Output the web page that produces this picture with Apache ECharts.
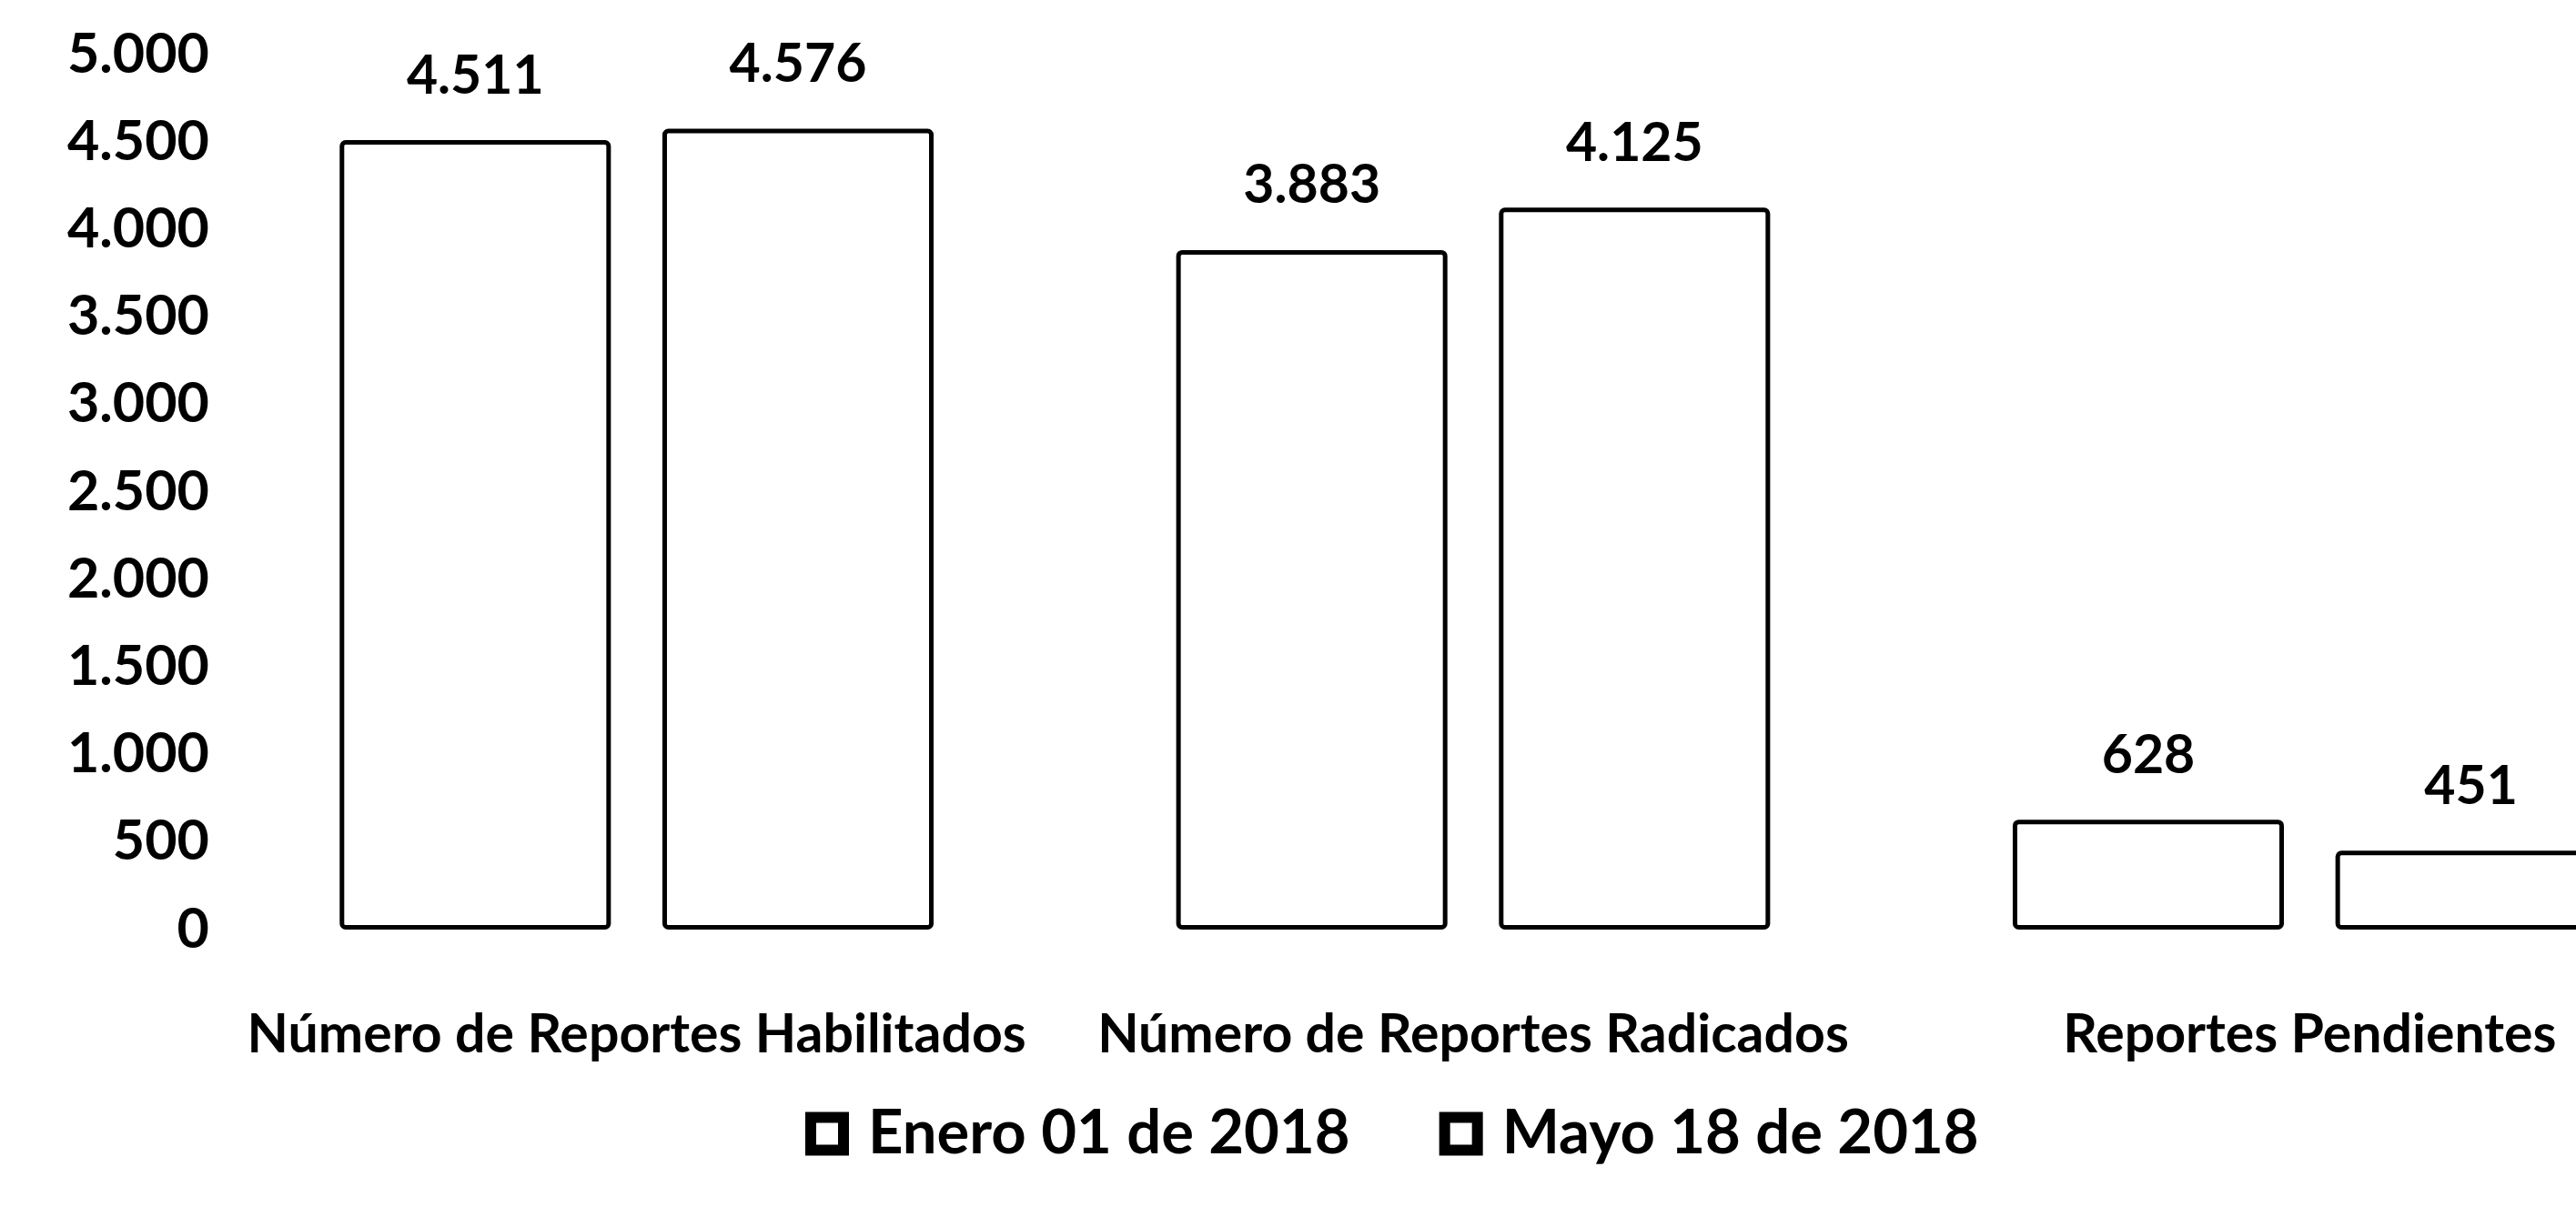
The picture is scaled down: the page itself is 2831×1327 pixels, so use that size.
<!DOCTYPE html>
<html>
<head>
<meta charset="utf-8">
<script src="https://cdn.jsdelivr.net/npm/echarts@6/dist/echarts.min.js"></script>
<style>
  html, body { margin: 0; padding: 0; background: #fff; overflow: hidden; }
  #chart { width: 3000px; height: 1327px; }
</style>
</head>
<body>
<div id="chart"></div>
<script>
// Report counts per category at two cut-off dates
const categories = [
  'Número de Reportes Habilitados',
  'Número de Reportes Radicados',
  'Reportes Pendientes'
];
const seriesNames = ['Enero 01 de 2018', 'Mayo 18 de 2018'];
const enero = [4511, 3883, 628];
const mayo = [4576, 4125, 451];
const yTicks = { min: 0, max: 5000, interval: 500 };

// Spanish-style thousands separator: 4511 -> "4.511"
function fmt(v) {
  return String(v).replace(/\B(?=(\d{3})+(?!\d))/g, '.');
}

const FONT = 'Lato';
const WEIGHT = 'bold';
const barStyle = {
  color: '#ffffff',
  borderColor: '#000000',
  borderWidth: 5,
  borderRadius: 4
};
const valueLabel = {
  show: true, position: 'top', distance: 41,
  fontFamily: FONT, fontWeight: WEIGHT, fontSize: 59, color: '#000',
  formatter: p => fmt(p.value)
};

const chart = echarts.init(document.getElementById('chart'), null, { renderer: 'canvas' });
chart.setOption({
  backgroundColor: '#ffffff',
  animation: false,
  textStyle: { fontFamily: FONT, color: '#000' },
  grid: { left: 240, right: 2, top: 60, bottom: 305, containLabel: false },
  legend: {
    left: 885,
    top: 1213,
    padding: 0,
    itemWidth: 36,
    itemHeight: 36,
    itemGap: 98,
    icon: 'rect',
    textStyle: { fontFamily: FONT, fontWeight: WEIGHT, fontSize: 67, color: '#000', padding: [0, 0, 0, 22] },
    data: seriesNames.map(n => ({ name: n, itemStyle: { color: '#fff', borderColor: '#000', borderWidth: 12 } }))
  },
  xAxis: {
    type: 'category',
    data: categories,
    axisLine: { show: false },
    axisTick: { show: false },
    axisLabel: { fontFamily: FONT, fontWeight: WEIGHT, fontSize: 59, color: '#000', margin: 86, interval: 0 }
  },
  yAxis: {
    type: 'value',
    min: yTicks.min,
    max: yTicks.max,
    interval: yTicks.interval,
    axisLine: { show: false },
    axisTick: { show: false },
    splitLine: { show: false },
    axisLabel: { fontFamily: FONT, fontWeight: WEIGHT, fontSize: 61, color: '#000', margin: 10, formatter: fmt }
  },
  series: [
    {
      name: seriesNames[0],
      type: 'bar',
      data: enero,
      barGap: '19%',
      barCategoryGap: '29%',
      itemStyle: barStyle,
      label: valueLabel
    },
    {
      name: seriesNames[1],
      type: 'bar',
      data: mayo,
      barGap: '19%',
      barCategoryGap: '29%',
      itemStyle: barStyle,
      label: valueLabel
    }
  ]
});
</script>
</body>
</html>
